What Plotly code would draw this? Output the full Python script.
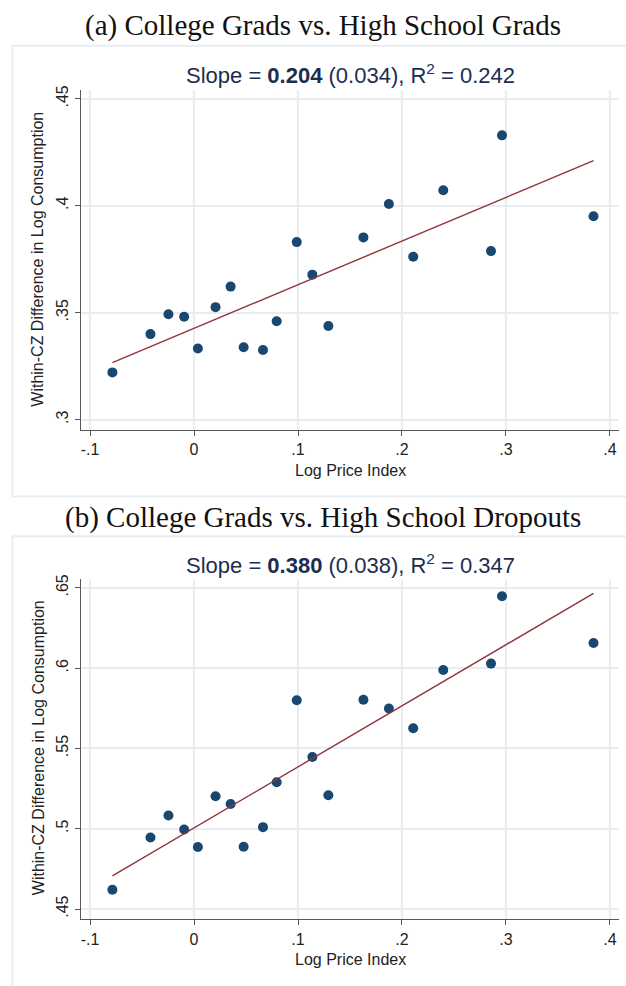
import plotly.graph_objects as go

# Panel (a): College grads vs high school grads
price_a = [-0.0785, -0.0419, -0.0246, -0.0095, 0.0037, 0.0207, 0.0352, 0.0477, 0.0663, 0.0795,
           0.0988, 0.1138, 0.1292, 0.1629, 0.1874, 0.2108, 0.2397, 0.2856, 0.2962, 0.3842]
cons_a = [0.3221, 0.3400, 0.3493, 0.3481, 0.3333, 0.3526, 0.3622, 0.3339, 0.3326, 0.3460,
          0.3830, 0.3678, 0.3438, 0.3852, 0.4008, 0.3762, 0.4072, 0.3788, 0.4329, 0.3951]
slope_a, intercept_a = 0.204, 0.3427

# Panel (b): College grads vs high school dropouts
price_b = price_a
cons_b = [0.4620, 0.4946, 0.5082, 0.4995, 0.4886, 0.5202, 0.5154, 0.4888, 0.5010, 0.5289,
          0.5800, 0.5446, 0.5208, 0.5803, 0.5749, 0.5625, 0.5988, 0.6028, 0.6447, 0.6156]
slope_b, intercept_b = 0.380, 0.5005

x_ticks = [-0.1, 0, 0.1, 0.2, 0.3, 0.4]
x_ticktext = ["-.1", "0", ".1", ".2", ".3", ".4"]
ya_ticks = [0.3, 0.35, 0.4, 0.45]
ya_ticktext = [".3", ".35", ".4", ".45"]
yb_ticks = [0.45, 0.5, 0.55, 0.6, 0.65]
yb_ticktext = [".45", ".5", ".55", ".6", ".65"]

W, H = 626, 986
NAVY = "#1a476f"
MAROON = "#90353b"
GRID = "#e6eef1"
AXIS = "#595959"

fig = go.Figure()

def add_panel(xs, ys, slope, intercept, xa, ya):
    fig.add_trace(go.Scatter(x=xs, y=ys, mode="markers", xaxis=xa, yaxis=ya,
                             marker=dict(color=NAVY, size=10, line=dict(width=0)),
                             showlegend=False, hoverinfo="skip"))
    x0, x1 = min(xs), max(xs)
    fig.add_trace(go.Scatter(x=[x0, x1], y=[intercept + slope * x0, intercept + slope * x1],
                             mode="lines", xaxis=xa, yaxis=ya,
                             line=dict(color=MAROON, width=1.4),
                             showlegend=False, hoverinfo="skip"))

add_panel(price_a, cons_a, slope_a, intercept_a, "x", "y")
add_panel(price_b, cons_b, slope_b, intercept_b, "x2", "y2")

def px_y(p):
    return 1 - p / H

def px_x(p):
    return p / W

xdom = [px_x(81), px_x(619)]
xrange_ = [-0.1087, 0.4087]

common_x = dict(domain=xdom, range=xrange_, tickvals=x_ticks, ticktext=x_ticktext,
                showline=True, linecolor=AXIS, linewidth=1.3, ticks="outside", ticklen=5,
                tickcolor=AXIS, tickwidth=1.2, showgrid=True, gridcolor=GRID, gridwidth=1.5,
                zeroline=False, tickfont=dict(family="Liberation Sans", size=16, color="#222"),
                fixedrange=True)
common_y = dict(showline=True, linecolor=AXIS, linewidth=1.3, ticks="outside", ticklen=5,
                tickcolor=AXIS, tickwidth=1.2, showgrid=True, gridcolor=GRID, gridwidth=1.5,
                zeroline=False, tickangle=-90,
                tickfont=dict(family="Liberation Sans", size=16, color="#222"),
                fixedrange=True)

fig.update_layout(
    width=W, height=H, margin=dict(l=0, r=0, t=0, b=0),
    paper_bgcolor="white", plot_bgcolor="white",
    xaxis=dict(**common_x, anchor="y"),
    yaxis=dict(**common_y, domain=[px_y(426.7), px_y(85)], range=[0.2954, 0.4543],
               tickvals=ya_ticks, ticktext=ya_ticktext, anchor="x"),
    xaxis2=dict(**common_x, anchor="y2"),
    yaxis2=dict(**common_y, domain=[px_y(919), px_y(576.7)], range=[0.4436, 0.6556],
                tickvals=yb_ticks, ticktext=yb_ticktext, anchor="x2"),
)

# graph region outlines
for top, bot in [(41, 494), (534, 990)]:
    fig.add_shape(type="rect", xref="paper", yref="paper",
                  x0=px_x(12.5), x1=px_x(640), y0=px_y(bot), y1=px_y(top),
                  line=dict(color=GRID, width=2), fillcolor="rgba(0,0,0,0)", layer="below")

annots = []
def txt(x, y, text, size, family, color="#111", angle=0):
    annots.append(dict(x=px_x(x), y=px_y(y), xref="paper", yref="paper", text=text,
                       showarrow=False, xanchor="center", yanchor="middle",
                       font=dict(size=size, family=family, color=color), textangle=angle))

txt(323, 21, "(a) College Grads vs. High School Grads", 29, "Liberation Serif")
txt(323, 515, "(b) College Grads vs. High School Dropouts", 29, "Liberation Serif")
sub_a = "Slope = <b>0.204</b> (0.034), R<sup>2</sup> = 0.242"
sub_b = "Slope = <b>0.380</b> (0.038), R<sup>2</sup> = 0.347"
txt(350, 69, sub_a, 22, "Liberation Sans", "#1c2d4f")
txt(350, 562, sub_b, 22, "Liberation Sans", "#1c2d4f")
txt(350, 468, "Log Price Index", 16, "Liberation Sans", "#222")
txt(350, 959, "Log Price Index", 16, "Liberation Sans", "#222")
txt(38, 256, "Within-CZ Difference in Log Consumption", 16, "Liberation Sans", "#222", -90)
txt(38, 747, "Within-CZ Difference in Log Consumption", 16, "Liberation Sans", "#222", -90)
fig.update_layout(annotations=annots)

fig.write_html("out.html")
